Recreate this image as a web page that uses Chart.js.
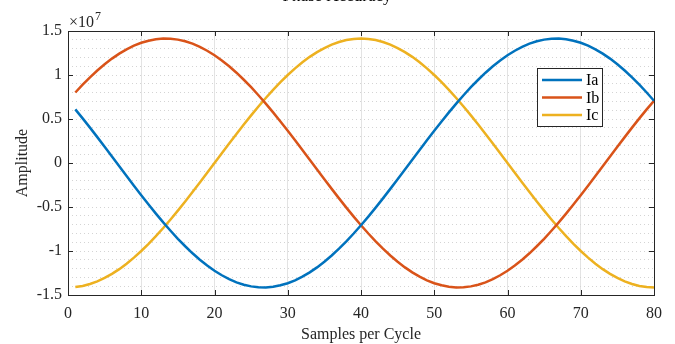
<!DOCTYPE html>
<html>
<head>
<meta charset="utf-8">
<script src="https://cdn.jsdelivr.net/npm/chart.js@4.4.1/dist/chart.umd.min.js"></script>
<style>
  html, body { margin: 0; padding: 0; background: #fff; }
  #wrap { width: 675px; height: 344px; }
</style>
</head>
<body>
<div id="wrap"><canvas id="c" width="675" height="344"></canvas></div>
<script>
// sample index along x
const samples = [
  1, 2, 3, 4, 5, 6, 7, 8, 9, 10, 11, 12, 13, 14, 15, 16, 17, 18, 19, 20,
  21, 22, 23, 24, 25, 26, 27, 28, 29, 30, 31, 32, 33, 34, 35, 36, 37, 38, 39, 40,
  41, 42, 43, 44, 45, 46, 47, 48, 49, 50, 51, 52, 53, 54, 55, 56, 57, 58, 59, 60,
  61, 62, 63, 64, 65, 66, 67, 68, 69, 70, 71, 72, 73, 74, 75, 76, 77, 78, 79, 80
];

// amplitudes, in units of 1e7
const ia = [
  0.609, 0.507, 0.402, 0.294, 0.185, 0.074, -0.037, -0.148, -0.258, -0.366,
  -0.472, -0.575, -0.675, -0.770, -0.861, -0.946, -1.026, -1.099, -1.165, -1.225,
  -1.276, -1.320, -1.356, -1.383, -1.402, -1.412, -1.414, -1.406, -1.390, -1.366,
  -1.333, -1.292, -1.243, -1.186, -1.122, -1.051, -0.973, -0.890, -0.801, -0.707,
  -0.609, -0.507, -0.402, -0.294, -0.185, -0.074, 0.037, 0.148, 0.258, 0.366,
  0.472, 0.575, 0.675, 0.770, 0.861, 0.946, 1.026, 1.099, 1.165, 1.225,
  1.276, 1.320, 1.356, 1.383, 1.402, 1.412, 1.414, 1.406, 1.390, 1.366,
  1.333, 1.292, 1.243, 1.186, 1.122, 1.051, 0.973, 0.890, 0.801, 0.707
];
const ib = [
  0.801, 0.890, 0.973, 1.051, 1.122, 1.186, 1.243, 1.292, 1.333, 1.366,
  1.390, 1.406, 1.414, 1.412, 1.402, 1.383, 1.356, 1.320, 1.276, 1.225,
  1.165, 1.099, 1.026, 0.946, 0.861, 0.770, 0.675, 0.575, 0.472, 0.366,
  0.258, 0.148, 0.037, -0.074, -0.185, -0.294, -0.402, -0.507, -0.609, -0.707,
  -0.801, -0.890, -0.973, -1.051, -1.122, -1.186, -1.243, -1.292, -1.333, -1.366,
  -1.390, -1.406, -1.414, -1.412, -1.402, -1.383, -1.356, -1.320, -1.276, -1.225,
  -1.165, -1.099, -1.026, -0.946, -0.861, -0.770, -0.675, -0.575, -0.472, -0.366,
  -0.258, -0.148, -0.037, 0.074, 0.185, 0.294, 0.402, 0.507, 0.609, 0.707
];
const ic = [
  -1.410, -1.397, -1.375, -1.345, -1.306, -1.260, -1.206, -1.144, -1.075, -1.000,
  -0.918, -0.831, -0.739, -0.642, -0.541, -0.437, -0.330, -0.221, -0.111, 0.000,
  0.111, 0.221, 0.330, 0.437, 0.541, 0.642, 0.739, 0.831, 0.918, 1.000,
  1.075, 1.144, 1.206, 1.260, 1.306, 1.345, 1.375, 1.397, 1.410, 1.414,
  1.410, 1.397, 1.375, 1.345, 1.306, 1.260, 1.206, 1.144, 1.075, 1.000,
  0.918, 0.831, 0.739, 0.642, 0.541, 0.437, 0.330, 0.221, 0.111, 0.000,
  -0.111, -0.221, -0.330, -0.437, -0.541, -0.642, -0.739, -0.831, -0.918, -1.000,
  -1.075, -1.144, -1.206, -1.260, -1.306, -1.345, -1.375, -1.397, -1.410, -1.414
];

const seriesNames = ['Ia', 'Ib', 'Ic'];
const seriesColors = ['#0072BD', '#D95319', '#EDB120'];
const xTicks = [0, 10, 20, 30, 40, 50, 60, 70, 80];
const yTicks = [-1.5, -1, -0.5, 0, 0.5, 1, 1.5];

const FONT = '"Liberation Serif", "Times New Roman", serif';

function toPoints(ys) {
    return samples.map((x, i) => ({ x: x, y: ys[i] }));
}

function isMajorY(v) {
    return Math.abs(v * 2 - Math.round(v * 2)) < 1e-6;
}

// box, inward ticks, exponent, clipped title and legend (MATLAB look)
const matlabAxes = {
    id: 'matlabAxes',
    afterDraw(chart) {
        const ctx = chart.ctx;
        const area = chart.chartArea;
        const xs = chart.scales.x;
        const ys = chart.scales.y;
        ctx.save();

        ctx.strokeStyle = '#262626';
        ctx.lineWidth = 1;
        ctx.strokeRect(Math.round(area.left) + 0.5, Math.round(area.top) + 0.5,
            Math.round(area.right - area.left), Math.round(area.bottom - area.top));

        const tl = 5;
        ctx.beginPath();
        xTicks.forEach(v => {
            const px = Math.round(xs.getPixelForValue(v)) + 0.5;
            ctx.moveTo(px, area.bottom);
            ctx.lineTo(px, area.bottom - tl);
            ctx.moveTo(px, area.top);
            ctx.lineTo(px, area.top + tl);
        });
        yTicks.forEach(v => {
            const py = Math.round(ys.getPixelForValue(v)) + 0.5;
            ctx.moveTo(area.left, py);
            ctx.lineTo(area.left + tl, py);
            ctx.moveTo(area.right, py);
            ctx.lineTo(area.right - tl, py);
        });
        ctx.stroke();

        // exponent label
        ctx.fillStyle = '#262626';
        ctx.textBaseline = 'alphabetic';
        ctx.textAlign = 'left';
        ctx.font = '16px ' + FONT;
        ctx.fillText('\u00d710', area.left + 1, area.top - 4);
        const w = ctx.measureText('\u00d710').width;
        ctx.font = '12px ' + FONT;
        ctx.fillText('7', area.left + 1 + w + 1, area.top - 11);

        // title, cut off by the top edge
        ctx.font = '17px ' + FONT;
        ctx.textAlign = 'center';
        ctx.fillStyle = '#000';
        ctx.fillText('Phase Accuracy', 337, 1);

        // legend
        const lx = 537, ly = 68, lw = 65, lh = 58;
        ctx.fillStyle = '#fff';
        ctx.fillRect(lx, ly, lw, lh);
        ctx.strokeStyle = '#262626';
        ctx.lineWidth = 1;
        ctx.strokeRect(lx + 0.5, ly + 0.5, lw, lh);
        ctx.font = '16px ' + FONT;
        ctx.textAlign = 'left';
        ctx.textBaseline = 'middle';
        seriesNames.forEach((name, i) => {
            const yy = ly + 12 + i * 17.5;
            ctx.strokeStyle = seriesColors[i];
            ctx.lineWidth = 2.5;
            ctx.beginPath();
            ctx.moveTo(lx + 5, yy);
            ctx.lineTo(lx + 45, yy);
            ctx.stroke();
            ctx.fillStyle = '#000';
            ctx.fillText(name, lx + 49, yy + 1);
        });

        ctx.restore();
    }
};

const datasets = [ia, ib, ic].map((ys, i) => ({
    label: seriesNames[i],
    data: toPoints(ys),
    borderColor: seriesColors[i],
    backgroundColor: seriesColors[i],
    borderWidth: 2.5,
    pointRadius: 0,
    tension: 0,
    fill: false
}));

new Chart(document.getElementById('c'), {
    type: 'line',
    data: { datasets: datasets },
    plugins: [matlabAxes],
    options: {
        responsive: false,
        devicePixelRatio: 1,
        animation: false,
        layout: { padding: { left: 0, right: 21, top: 31, bottom: 0 } },
        plugins: {
            legend: { display: false },
            tooltip: { enabled: false }
        },
        scales: {
            x: {
                type: 'linear',
                min: 0,
                max: 80,
                afterFit: s => { s.height = 49; },
                ticks: {
                    stepSize: 10,
                    color: '#262626',
                    padding: 9,
                    maxRotation: 0,
                    font: { family: FONT, size: 16 }
                },
                grid: { color: '#e3e3e3', lineWidth: 1, drawTicks: false },
                border: { display: false },
                title: {
                    display: true,
                    text: 'Samples per Cycle',
                    color: '#262626',
                    padding: { top: 0, bottom: 0 },
                    font: { family: FONT, size: 16 }
                }
            },
            y: {
                type: 'linear',
                min: -1.5,
                max: 1.5,
                afterFit: s => { s.width = 68; },
                ticks: {
                    stepSize: 0.1,
                    autoSkip: false,
                    color: '#262626',
                    padding: 6,
                    font: { family: FONT, size: 16 },
                    callback: v => isMajorY(v) ? String(Math.round(v * 10) / 10) : ''
                },
                grid: {
                    color: '#d4d4d4',
                    lineWidth: 1,
                    drawTicks: false
                },
                border: { display: false, dash: [1, 3] },
                title: {
                    display: true,
                    text: 'Amplitude',
                    color: '#262626',
                    padding: { top: 13, bottom: 0 },
                    font: { family: FONT, size: 16 }
                }
            }
        }
    }
});
</script>
</body>
</html>
